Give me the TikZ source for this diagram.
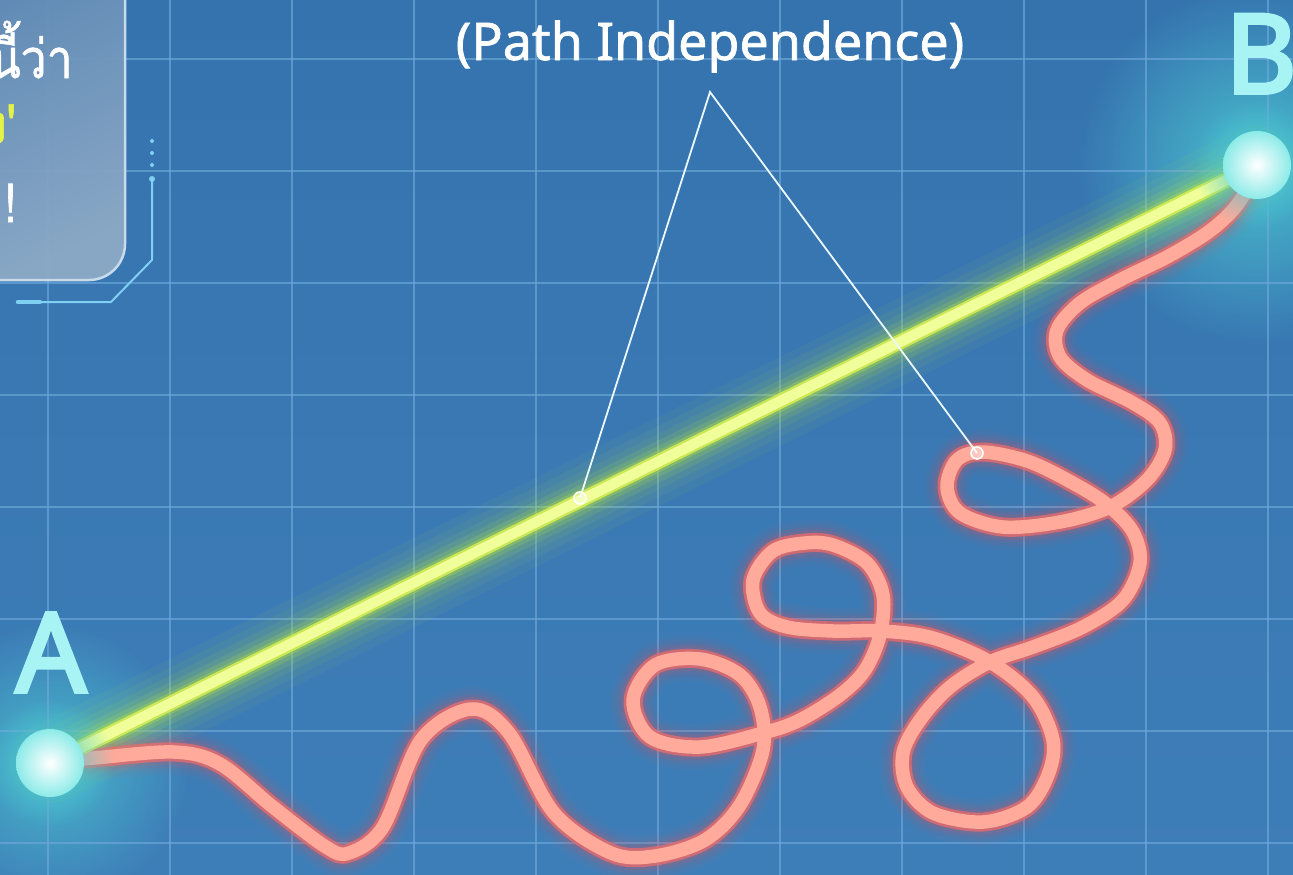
\documentclass[tikz,border=0pt]{standalone}
\usepackage{fontspec}
\setmainfont{Noto Sans}
\newfontfamily\titlefont[FakeBold=1.3]{Noto Sans}
\newfontfamily\labelfont[FakeBold=3.5]{Noto Sans}
\newfontfamily\thaifont[Script=Thai, FakeStretch=0.86, FakeBold=1.2]{Loma}
\usetikzlibrary{fadings}
\definecolor{bgtop}{HTML}{3573AF}
\definecolor{bgmid}{HTML}{3E7EB8}
\definecolor{gridc}{HTML}{6FA9DA}
\definecolor{glowcyan}{HTML}{4CC8D2}
\definecolor{ballrim}{HTML}{8CEBE8}
\definecolor{labelc}{HTML}{A8F3F3}
\definecolor{redcore}{HTML}{FFAA9A}
\definecolor{rededge}{HTML}{F06A68}
\definecolor{redglow}{HTML}{FF4C4C}
\definecolor{ycore}{HTML}{F0FF9A}
\definecolor{yedge}{HTML}{D8F050}
\definecolor{yglow}{HTML}{B8E840}
\definecolor{boxtop}{HTML}{5A86B3}
\definecolor{boxbot}{HTML}{8DAAC6}
\definecolor{boxline}{HTML}{C8DBEA}
\definecolor{circuit}{HTML}{7FD0F2}
\definecolor{thyellow}{HTML}{E4F24A}
\tikzfading[name=softglow, inner color=transparent!0, outer color=transparent!100]
\newcommand\wigglepath{plot[smooth,tension=0.55] coordinates {
(60,761) (94,758) (174,752) (220,764) (273,807) (326,847) (349,853) (383,827)
(421,740) (471,709) (509,733) (554,813) (611,853) (655,856) (705,840) (740,805)
(763,750) (760,707) (740,675) (700,659) (655,665) (633,700) (650,737) (700,747)
(763,733) (800,720) (840,695) (865,670) (880,635) (883,595) (867,563) (833,545)
(805,543) (773,551) (753,580) (760,613) (787,627) (833,631) (882,631) (933,638)
(990,662) (1033,697) (1053,740) (1048,775) (1027,807) (983,822) (933,813) (907,787)
(903,753) (920,720) (950,687) (990,662) (1033,647) (1083,627) (1123,600) (1140,563)
(1133,532) (1110,507) (1080,487) (1030,462) (983,452) (957,460) (947,487) (960,513)
(1003,527) (1060,522) (1110,507) (1147,480) (1165,450) (1160,423) (1133,403) (1087,380)
(1060,357) (1057,330) (1080,303) (1120,280) (1167,257) (1207,233) (1233,210) (1250,185)}}
\tikzset{
  gridline/.style={gridc, line width=1.3pt, opacity=0.65},
  callout/.style={white!92!cyan, line width=1.8pt},
  marker/.style={white, line width=1.6pt, fill=white, fill opacity=0.35},
  ptlabel/.style={font=\fontsize{110}{110}\labelfont, text=labelc, anchor=base, inner sep=0pt},
  thaitext/.style={font=\fontsize{54}{54}\thaifont, anchor=base east, inner sep=0pt},
  redlayer/.style={line cap=round, line join=round},
}
\begin{document}
\begin{tikzpicture}[x=1pt,y=-1pt]
\useasboundingbox (0,0) rectangle (1293,875);
\clip (0,0) rectangle (1293,875);
% background
\shade[top color=bgtop, bottom color=bgmid] (0,0) rectangle (1293,875);
\coordinate (A) at (50,763);
\coordinate (B) at (1257,165);
\fill[glowcyan, path fading=softglow, opacity=0.9] (B) circle (180);
\fill[glowcyan, path fading=softglow, opacity=0.8] (A) circle (140);
% grid
\foreach \gx in {48,170,292,414,536,658,780,902,1024,1146,1268}
  \draw[gridline] (\gx,0) -- (\gx,875);
\foreach \gy in {59,171,283,395,507,619,731,843}
  \draw[gridline] (0,\gy) -- (1293,\gy);
% text box top-left
\shade[top color=boxtop, bottom color=boxbot, shading angle=25, opacity=0.95, rounded corners=36pt]
  (-80,-80) rectangle (125,280);
\draw[boxline, line width=2.5pt, rounded corners=36pt] (-80,-80) rectangle (125,280);
\node[thaitext, text=white] (t1) at (73,78) {นี้ว่า};
\node[thaitext, text=thyellow] (t2) at (16,143) {ง'};
\node[thaitext, text=white] (t3) at (17,222) {!};
% circuit decoration
\draw[circuit, line width=2pt, line join=round] (152,180) -- (152,260) -- (111,302) -- (18,302);
\draw[circuit, line width=4.5pt, line cap=round] (18,302) -- (40,302);
\fill[circuit] (152,179) circle (3);
\foreach \dy in {141,153,165} \fill[circuit] (152,\dy) circle (2);
% yellow straight path glow
\foreach \w/\o in {80/0.05, 64/0.06, 50/0.08, 38/0.12, 28/0.18, 20/0.3}
  \draw[yglow, line width=\w pt, opacity=\o, line cap=round] (A) -- (B);
% red wiggly path
\foreach \w/\o in {46/0.04, 38/0.05, 31/0.08, 25/0.12}
  \draw[redglow, line width=\w pt, opacity=\o, redlayer] \wigglepath;
\draw[rededge, line width=19pt, opacity=0.75, redlayer] \wigglepath;
\draw[redcore, line width=13.5pt, redlayer] \wigglepath;
% yellow core
\draw[yedge, line width=15pt, opacity=0.85] (A) -- (B);
\draw[ycore, line width=10.5pt] (A) -- (B);
% end balls
\fill[glowcyan, path fading=softglow] (A) circle (64);
\fill[glowcyan, path fading=softglow] (B) circle (64);
\shade[inner color=white, outer color=ballrim] (A) circle (34);
\shade[inner color=white, outer color=ballrim] (B) circle (34);
% labels
\node[ptlabel] (labA) at (51,692) {A};
\node[ptlabel] (labB) at (1261,93) {B};
% title and callout
\node[anchor=base, inner sep=0pt, text=white, font=\fontsize{52}{52}\titlefont] (title) at (710,60) {(Path Independence)};
\coordinate (apex) at (710,92);
\coordinate (m1) at (580,498);
\coordinate (m2) at (977,453);
\draw[callout, line join=miter] (m1) -- (apex) -- (m2);
\draw[marker] (m1) circle (6);
\draw[marker] (m2) circle (6);
\end{tikzpicture}
\end{document}
